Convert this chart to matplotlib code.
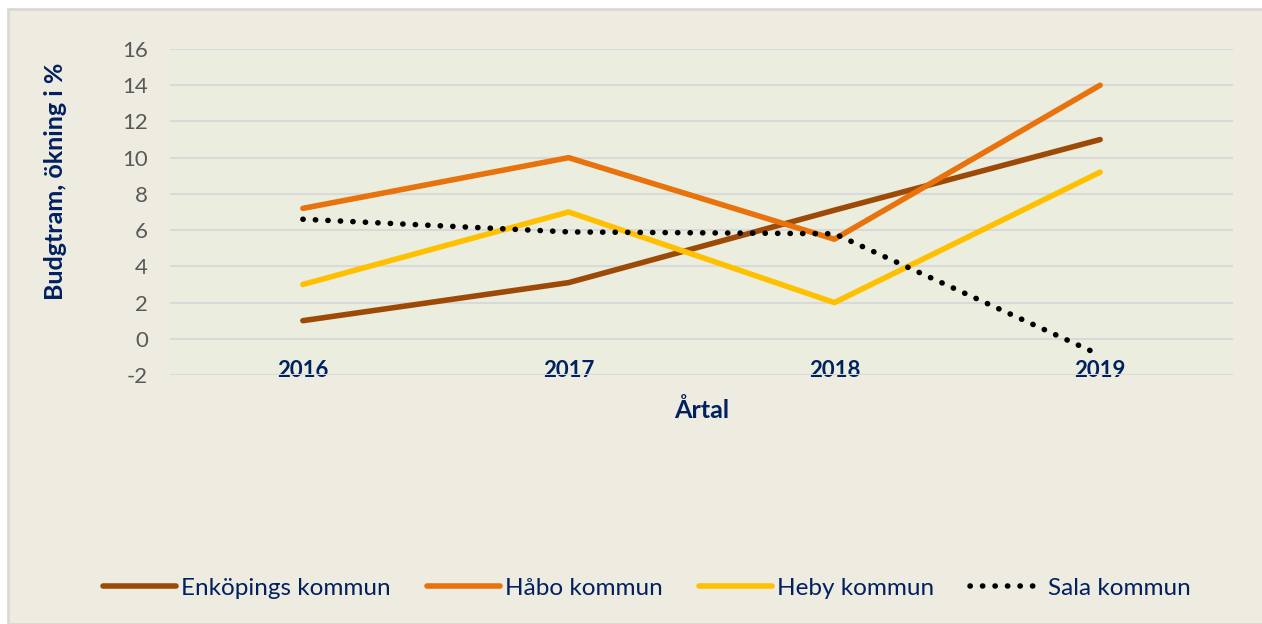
import matplotlib
matplotlib.use("Agg")
import matplotlib.pyplot as plt
from matplotlib.patches import Rectangle

years = ["2016", "2017", "2018", "2019"]
enkoping = [1.0, 3.1, 7.1, 11.0]
habo = [7.2, 10.0, 5.5, 14.0]
heby = [3.0, 7.0, 2.0, 9.2]
sala = [6.6, 5.9, 5.8, -0.9]
yticks = [-2, 0, 2, 4, 6, 8, 10, 12, 14, 16]

W, H = 1262, 624
fig = plt.figure(figsize=(W / 100, H / 100), dpi=100, facecolor="white")
fig.patches.append(Rectangle((8 / W, 0), 1 - 8 / W + 0.01, (H - 9) / H,
                             transform=fig.transFigure, facecolor="#EEEBE0",
                             edgecolor="#D9D9D9", linewidth=2, zorder=-10))

left, right, top, bottom = 170, 1233, 49, 375
ax = fig.add_axes([left / W, 1 - bottom / H, (right - left) / W, (bottom - top) / H])
ax.set_facecolor("#EBEEDF")
for s in ax.spines.values():
    s.set_visible(False)

font = ["Lato", "DejaVu Sans"]
navy = "#002060"
x = list(range(len(years)))
lw = 4.0
ax.plot(x, enkoping, color="#9C4A06", lw=lw, solid_capstyle="round", label="Enköpings kommun", zorder=3)
ax.plot(x, habo, color="#E8720C", lw=lw, solid_capstyle="round", label="Håbo kommun", zorder=3)
ax.plot(x, heby, color="#FFC000", lw=lw, solid_capstyle="round", label="Heby kommun", zorder=3)
ax.plot(x, sala, color="black", lw=4, linestyle=(0, (0.05, 2.2)), dash_capstyle="round",
        label="Sala kommun", zorder=3)

ax.set_xlim(-0.5, 3.5)
ax.set_ylim(-2, 16)
ax.set_yticks(yticks)
ax.set_yticklabels([str(v) for v in yticks], fontsize=16, color="#595959", family=font)
ax.yaxis.grid(True, color="#D9D9D9", lw=1.5)
ax.set_axisbelow(True)
ax.tick_params(axis="y", length=0, pad=16)
ax.set_xticks(x)
ax.set_xticklabels(years, fontsize=16, fontweight="bold", color=navy, family=font)
ax.tick_params(axis="x", length=0, pad=-3)
for lab in ax.get_xticklabels():
    lab.set_va("center")

ax.set_ylabel("Budgtram, ökning i %", fontsize=18, fontweight="bold", color=navy, family=font)
ax.yaxis.set_label_coords(-0.108, 0.595)
ax.yaxis.label.set_va("center")
ax.set_xlabel("Årtal", fontsize=18, fontweight="bold", color=navy, family=font, labelpad=12)

leg = fig.legend(loc="center", bbox_to_anchor=(647 / W, 1 - 588 / H), ncol=4,
                 frameon=False, prop={"family": font, "size": 17.5},
                 handlelength=3.0, columnspacing=1.5, handletextpad=0.2)
for t in leg.get_texts():
    t.set_color(navy)

fig.savefig("out.png", dpi=100, facecolor=fig.get_facecolor())
